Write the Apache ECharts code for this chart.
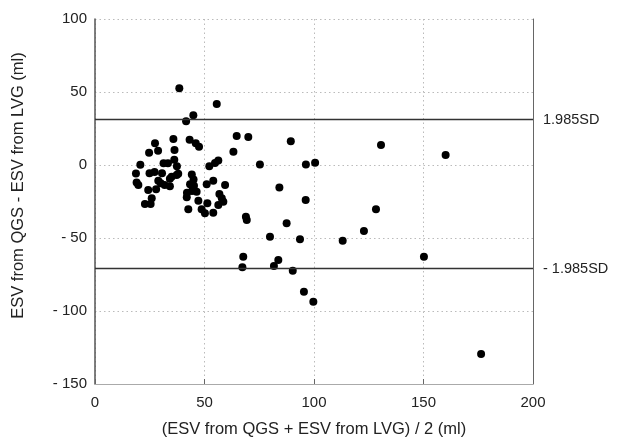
<!DOCTYPE html>
<html>
<head>
<meta charset="utf-8">
<script src="https://cdn.jsdelivr.net/npm/echarts@6/dist/echarts.min.js"></script>
<style>
html,body{margin:0;padding:0;background:#fff;}
#chart{width:623px;height:445px;}
</style>
</head>
<body>
<div id="chart"></div>
<script>
// Mean of ESV (ml)
var meanX = [
 38.5,55.6,44.9,41.6,64.7,70.0,89.4,35.8,43.2,46.0,47.5,27.4,24.7,28.8,36.3,63.2,130.6,160.1,
 20.7,31.3,33.3,36.2,37.4,56.3,54.8,52.2,75.3,96.3,100.5,
 18.7,24.9,27.2,30.6,38.0,44.2,19.0,19.8,28.9,30.0,34.2,34.2,43.4,45.2,51.0,54.0,59.4,84.2,
 24.3,27.9,44.3,46.4,56.8,41.9,47.2,51.3,57.9,58.6,56.3,25.9,22.8,25.4,42.6,48.7,50.2,54.0,
 68.9,69.3,87.5,79.9,93.6,67.7,67.3,83.7,81.7,90.3,95.4,99.7,96.2,128.3,122.8,113.1,150.2,176.3,
 31.8,37.3,35.0,42.0,45.0
];
// Difference of ESV (ml)
var diffY = [
 52.5,41.8,34.0,30.0,19.9,19.2,16.2,17.8,17.3,14.9,12.5,14.9,8.4,9.8,10.3,9.1,13.7,6.8,
 0.1,1.2,1.2,3.6,-0.9,3.1,1.4,-0.9,0.3,0.3,1.6,
 -5.8,-5.7,-4.8,-5.7,-6.0,-6.5,-12.0,-13.7,-10.8,-12.5,-9.5,-14.6,-13.2,-14.2,-13.2,-10.8,-13.7,-15.4,
 -17.1,-16.6,-17.8,-18.3,-19.9,-22.1,-24.5,-26.2,-22.8,-25.1,-27.4,-22.8,-26.7,-26.7,-30.3,-30.3,-33.1,-32.7,
 -35.4,-37.7,-39.9,-49.1,-50.9,-62.8,-70.1,-65.1,-69.2,-72.4,-86.8,-93.6,-24.0,-30.3,-45.2,-51.8,-62.8,-129.5,
 -13.7,-6.9,-8.0,-19.0,-10.0
];
// Limits of agreement
var sdLines = [31, -71];
var sdLabels = ['1.985SD', '- 1.985SD'];
var xTicks = [0, 50, 100, 150, 200];
var yTicks = [-150, -100, -50, 0, 50, 100];
var xTitle = '(ESV from QGS + ESV from LVG) / 2 (ml)';
var yTitle = 'ESV from QGS - ESV from LVG (ml)';

var pts = meanX.map(function (x, i) { return [x, diffY[i]]; });
var FONT = '"Liberation Sans", Arial, sans-serif';

var chart = echarts.init(document.getElementById('chart'), null, {renderer: 'canvas'});
chart.setOption({
  animation: false,
  backgroundColor: '#fff',
  grid: {left: 95, right: 90, top: 19, bottom: 61, containLabel: false},
  xAxis: {
    type: 'value',
    min: xTicks[0], max: xTicks[xTicks.length - 1], interval: 50,
    name: xTitle, nameLocation: 'middle', nameGap: 37,
    nameTextStyle: {fontFamily: FONT, fontSize: 16.5, color: '#222'},
    axisLine: {show: true, onZero: false, lineStyle: {color: '#aaa', width: 1}},
    axisTick: {show: true, inside: true, length: 5, lineStyle: {color: '#666'}},
    axisLabel: {fontFamily: FONT, fontSize: 15, color: '#222', margin: 11},
    splitLine: {show: true, lineStyle: {color: '#bbb', type: [1.5, 3], width: 1}}
  },
  yAxis: [{
    type: 'value',
    min: yTicks[0], max: yTicks[yTicks.length - 1], interval: 50,
    name: yTitle, nameLocation: 'middle', nameGap: 68, nameRotate: 90,
    nameTextStyle: {fontFamily: FONT, fontSize: 16.5, color: '#222', padding: [0, 0, 0, 32]},
    axisLine: {show: true, onZero: false, lineStyle: {color: '#555', width: 1.5}},
    axisTick: {show: false},
    axisLabel: {
      fontFamily: FONT, fontSize: 15, color: '#222', margin: 8,
      formatter: function (v) { return v < 0 ? '- ' + Math.abs(v) : String(v); }
    },
    splitLine: {show: true, lineStyle: {color: '#bbb', type: [1.5, 3], width: 1}}
  }, {
    type: 'value', position: 'right',
    min: yTicks[0], max: yTicks[yTicks.length - 1], interval: 50,
    axisLine: {show: true, onZero: false, lineStyle: {color: '#666', width: 1}},
    axisTick: {show: false}, axisLabel: {show: false}, splitLine: {show: false}
  }],
  series: [{
    type: 'scatter',
    data: pts,
    symbol: 'circle',
    symbolSize: 8,
    itemStyle: {color: '#000', opacity: 1},
    markLine: {
      silent: true,
      symbol: ['none', 'none'],
      lineStyle: {color: '#333', type: 'solid', width: 1.3},
      label: {
        show: true, position: 'end', distance: 10,
        fontFamily: FONT, fontSize: 14.5, color: '#222',
        formatter: function (p) { return p.name; }
      },
      data: sdLines.map(function (v, i) { return {yAxis: v, name: sdLabels[i]}; })
    }
  }]
});
</script>
</body>
</html>
